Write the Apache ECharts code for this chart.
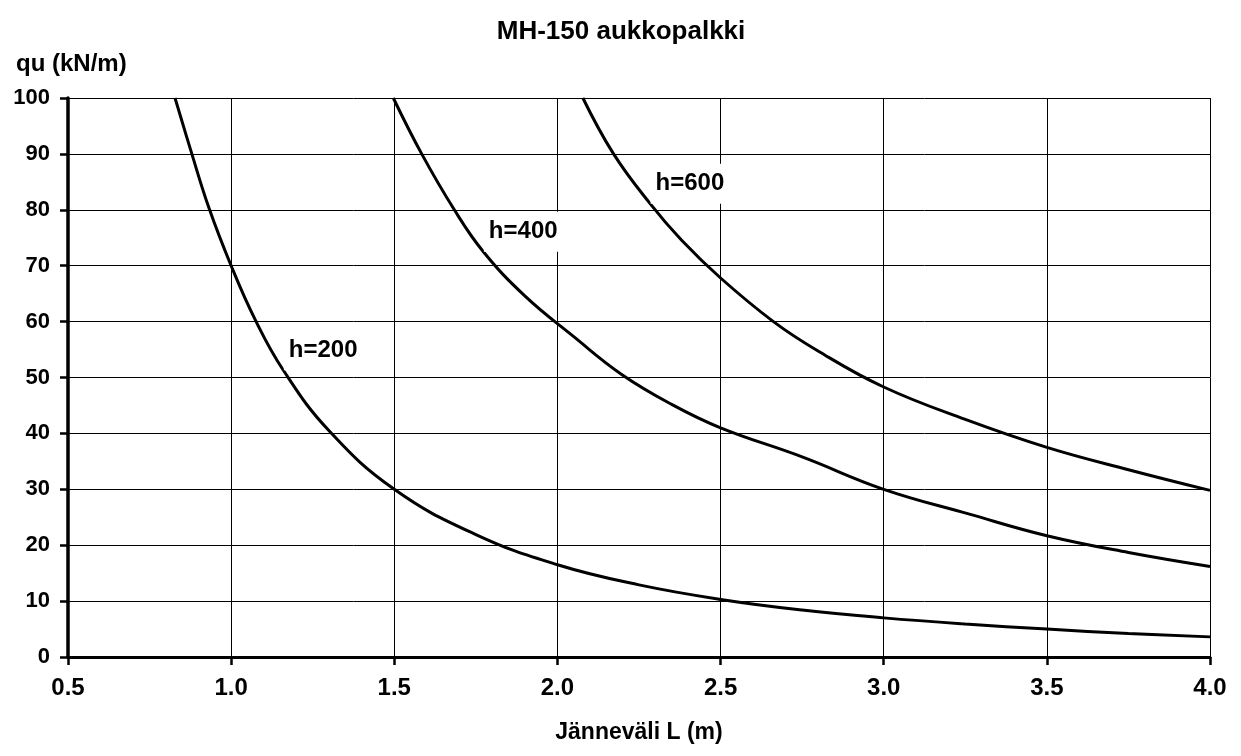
<!DOCTYPE html>
<html>
<head>
<meta charset="utf-8">
<script src="https://cdn.jsdelivr.net/npm/echarts@6/dist/echarts.min.js"></script>
<style>
html,body{margin:0;padding:0;background:#fff;}
#chart{width:1241px;height:756px;}
</style>
</head>
<body>
<div id="chart"></div>
<script>
// Data: [span L (m), qu (kN/m)]
const h200 = [[0.828,100],[0.877,90.5],[0.931,80.5],[1.0,70],[1.074,60.3],[1.16,51.3],[1.298,40.6],[1.5,30],[1.75,21.9],[2.0,16.5],[2.25,12.9],[2.5,10.3],[2.75,8.4],[3.0,7],[3.25,5.9],[3.5,5],[3.75,4.2],[4.0,3.6]];
const h400 = [[1.497,100],[1.584,90],[1.684,80],[1.773,72.5],[1.9,64.6],[2.05,57.3],[2.198,50.5],[2.35,45.2],[2.5,41],[2.75,35.8],[3.0,30],[3.26,25.6],[3.5,21.7],[3.75,18.7],[4.0,16.2]];
const h600 = [[2.078,100],[2.172,90],[2.284,81.1],[2.38,74.6],[2.5,67.8],[2.662,60],[2.8,54.7],[3.0,48.3],[3.25,42.5],[3.5,37.5],[3.75,33.5],[4.0,29.8]];
const seriesNames = ['h=200','h=400','h=600'];
// label anchor points (on each curve)
const labelPoints = [[1.16,51.3,'h=200'],[1.773,72.5,'h=400'],[2.284,81.1,'h=600']];
const xTicks = {min:0.5, max:4.0, interval:0.5};
const yTicks = {min:0, max:100, interval:10};

const FONT = '"Liberation Sans", Arial, sans-serif';
const chart = echarts.init(document.getElementById('chart'), null, {renderer:'canvas'});
const lineStyle = {color:'#000', width:3};
const mkLine = (name, data) => ({
  name, type:'line', data, smooth:0.42, showSymbol:false, symbol:'none',
  lineStyle, itemStyle:{color:'#000'}, silent:true, z:3
});
chart.setOption({
  animation:false,
  backgroundColor:'#fff',
  title:[
    {text:'MH-150 aukkopalkki', left:616, top:14, textAlign:'center',
     textStyle:{fontFamily:FONT, fontWeight:'bold', fontSize:26, color:'#000'}},
    {text:'qu (kN/m)', left:11, top:47,
     textStyle:{fontFamily:FONT, fontWeight:'bold', fontSize:24, color:'#000'}}
  ],
  grid:{left:68, right:31, top:98, bottom:99, containLabel:false},
  xAxis:{
    type:'value', min:xTicks.min, max:xTicks.max, interval:xTicks.interval,
    name:'Jänneväli L (m)', nameLocation:'middle', nameGap:64,
    nameTextStyle:{fontFamily:FONT, fontWeight:'bold', fontSize:23, color:'#000'},
    axisLine:{show:true, onZero:false, lineStyle:{color:'#000', width:3}},
    axisTick:{show:true, inside:false, length:8, lineStyle:{color:'#000', width:2.5}},
    axisLabel:{margin:19, fontFamily:FONT, fontWeight:'bold', fontSize:24, color:'#000',
      formatter:v=>v.toFixed(1)},
    splitLine:{show:true, lineStyle:{color:'#000', width:1}}
  },
  yAxis:{
    type:'value', min:yTicks.min, max:yTicks.max, interval:yTicks.interval,
    axisLine:{show:true, onZero:false, lineStyle:{color:'#000', width:3.5}},
    axisTick:{show:true, inside:false, length:8, lineStyle:{color:'#000', width:2.5}},
    axisLabel:{margin:18, fontFamily:FONT, fontWeight:'bold', fontSize:22, color:'#000'},
    splitLine:{show:true, lineStyle:{color:'#000', width:1}}
  },
  series:[
    mkLine(seriesNames[0], h200),
    mkLine(seriesNames[1], h400),
    mkLine(seriesNames[2], h600),
    {
      type:'scatter', data:labelPoints, symbolSize:1, silent:true, z:5,
      itemStyle:{color:'#000', opacity:1},
      emphasis:{disabled:true},
      label:{show:true, position:'right', distance:0, offset:[0,-20],
        formatter:p=>p.value[2], backgroundColor:'#fff', opacity:1,
        padding:[6,4,10,5], lineHeight:24,
        fontFamily:FONT, fontWeight:'bold', fontSize:24, color:'#000'}
    }
  ]
});
</script>
</body>
</html>
